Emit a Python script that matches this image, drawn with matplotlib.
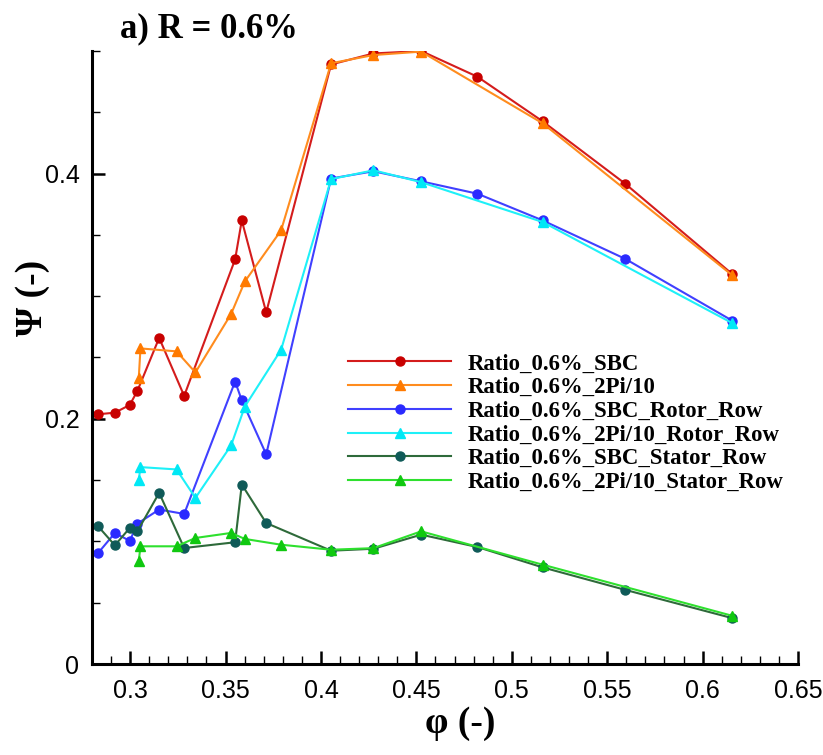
import matplotlib
matplotlib.use('Agg')
from matplotlib import pyplot as plt
from matplotlib.ticker import MultipleLocator

# x 值 (φ) —— SBC 系列与 2Pi/10 系列各自的工作点
phi_sbc = [0.2832, 0.2920, 0.2998, 0.3038, 0.3152, 0.3283, 0.3550, 0.3585, 0.3713,
           0.4053, 0.4275, 0.4525, 0.4820, 0.5162, 0.5594, 0.6156]
phi_2pi = [0.3045, 0.3054, 0.3243, 0.3342, 0.3529, 0.3601, 0.3791,
           0.4053, 0.4275, 0.4525, 0.5162, 0.6156]

# y 值 (Ψ)
psi_sbc = [0.2037, 0.2050, 0.2113, 0.2228, 0.2660, 0.2187, 0.3300, 0.3618, 0.2868,
           0.4890, 0.4980, 0.5000, 0.4790, 0.4426, 0.3918, 0.3180]
psi_2pi = [0.2331, 0.2574, 0.2550, 0.2378, 0.2855, 0.3120, 0.3537,
           0.4900, 0.4967, 0.4995, 0.4410, 0.3170]
psi_sbc_rotor = [0.0905, 0.1069, 0.1004, 0.1145, 0.1260, 0.1224, 0.2304, 0.2151, 0.1710,
                 0.3960, 0.4019, 0.3937, 0.3836, 0.3618, 0.3305, 0.2800]
psi_2pi_rotor = [0.1500, 0.1606, 0.1587, 0.1355, 0.1783, 0.2100, 0.2563,
                 0.3955, 0.4027, 0.3930, 0.3605, 0.2780]
psi_sbc_stator = [0.1123, 0.0968, 0.1110, 0.1083, 0.1396, 0.0946, 0.0993, 0.1464, 0.1150,
                  0.0924, 0.0940, 0.1055, 0.0954, 0.0788, 0.0605, 0.0374]
psi_2pi_stator = [0.0837, 0.0960, 0.0960, 0.1028, 0.1069, 0.1020, 0.0973,
                  0.0932, 0.0945, 0.1082, 0.0810, 0.0393]

labels = ['Ratio_0.6%_SBC', 'Ratio_0.6%_2Pi/10',
          'Ratio_0.6%_SBC_Rotor_Row', 'Ratio_0.6%_2Pi/10_Rotor_Row',
          'Ratio_0.6%_SBC_Stator_Row', 'Ratio_0.6%_2Pi/10_Stator_Row']

serif = ['Liberation Serif', 'DejaVu Serif']
sans = ['Liberation Sans Narrow', 'Liberation Sans', 'DejaVu Sans']

fig = plt.figure(figsize=(8.23, 7.55), dpi=100)
ax = fig.add_axes([92 / 823, 91 / 755, 706 / 823, 613 / 755])

# 六条曲线
series = [
    (phi_sbc, psi_sbc, 'o', '#d41c1c', '#c80000'),
    (phi_2pi, psi_2pi, '^', '#ff8c1e', '#ff7a00'),
    (phi_sbc, psi_sbc_rotor, 'o', '#4040ff', '#2a2aff'),
    (phi_2pi, psi_2pi_rotor, '^', '#1ef0f8', '#00e8f5'),
    (phi_sbc, psi_sbc_stator, 'o', '#2e6a3a', '#0f5a58'),
    (phi_2pi, psi_2pi_stator, '^', '#2ee02e', '#10c810'),
]
for (xs, ys, mk, lc, mc), lab in zip(series, labels):
    ax.plot(xs, ys, color=lc, lw=1.5, marker=mk, ms=6.5,
            markerfacecolor=mc, markeredgecolor=mc, label=lab)

ax.set_xlim(0.28, 0.65)
ax.set_ylim(0, 0.5)
ax.xaxis.set_minor_locator(MultipleLocator(0.01))
ax.yaxis.set_minor_locator(MultipleLocator(0.05))
ax.set_xticks([0.3, 0.35, 0.4, 0.45, 0.5, 0.55, 0.6, 0.65])
ax.set_xticklabels(['0.3', '0.35', '0.4', '0.45', '0.5', '0.55', '0.6', '0.65'])
ax.set_yticks([0, 0.2, 0.4])
ax.set_yticklabels(['0', '0.2', '0.4'])

for s in ['top', 'right']:
    ax.spines[s].set_visible(False)
for s in ['left', 'bottom']:
    ax.spines[s].set_linewidth(2.2)

ax.tick_params(which='major', direction='in', length=9.5, width=1.8, labelsize=18)
ax.tick_params(axis='x', which='major', pad=11)
ax.tick_params(axis='y', which='major', pad=9)
ax.tick_params(which='minor', direction='in', length=5.5, width=1.0)
for t in ax.get_xticklabels() + ax.get_yticklabels():
    t.set_family(sans)

ax.set_xlabel('φ (-)', family=serif, fontweight='bold', fontsize=27)
ax.set_ylabel('Ψ (-)', family=serif, fontweight='bold', fontsize=27)
ax.xaxis.set_label_coords(0.521, -0.068)
ax.yaxis.set_label_coords(-0.06, 0.597)
fig.text(120 / 823, 1 - 37 / 755, 'a) R = 0.6%', family=serif, fontweight='bold',
         fontsize=25, ha='left', va='baseline')

ax.legend(loc='upper left', bbox_to_anchor=(337 / 823, 1 - 342 / 755),
          bbox_transform=fig.transFigure, frameon=False, borderpad=0,
          handlelength=4.5, handletextpad=0.72, labelspacing=0.12,
          prop={'family': serif, 'weight': 'bold', 'size': 16.4})

fig.savefig('out.png', dpi=100)
